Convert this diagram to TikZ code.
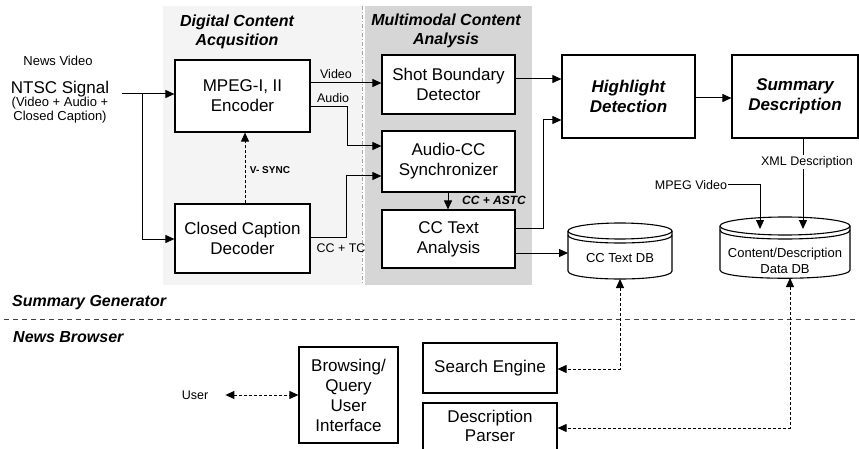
\documentclass[tikz,border=0pt]{standalone}
\usepackage{fontspec}
\setmainfont{Liberation Sans}
\usetikzlibrary{arrows.meta}
\begin{document}
\begin{tikzpicture}[x=1pt,y=-1pt,
  box/.style={draw, line width=1.2pt, fill=white, align=center, inner sep=0pt,
    font=\fontsize{17}{20}\selectfont},
  boxbi/.style={box, font=\fontsize{17}{20}\selectfont\bfseries\itshape},
  lbl/.style={inner sep=1pt, align=center, font=\fontsize{12.5}{14}\selectfont},
  ttl/.style={inner sep=0pt, align=center, font=\fontsize{16}{19}\selectfont\bfseries\itshape},
  arr/.style={-{Triangle[length=9pt,width=8pt]}, line width=1pt},
  darr/.style={{Triangle[length=9pt,width=8pt]}-{Triangle[length=9pt,width=8pt]}, line width=1pt, dash pattern=on 3pt off 2pt},
  dsarr/.style={-{Triangle[length=9pt,width=8pt]}, line width=1pt, dash pattern=on 3pt off 2pt},
  cylline/.style={line width=1.1pt}
]
\useasboundingbox (0,0) rectangle (859,449);
\clip (0,0) rectangle (859,449);
\fill[white] (0,0) rectangle (859,449);

% shaded regions
\fill[gray!9] (163,6) rectangle (362,285);
\fill[gray!32] (365,6) rectangle (532,285);
\draw[gray!70, line width=0.6pt, dash pattern=on 4pt off 2pt on 1pt off 2pt] (362,6) -- (362,285);

% titles
\node[ttl] (t1) at (237,32) {Digital Content\\Acqusition};
\node[ttl] (t2) at (446,31) {Multimodal Content\\Analysis};

% left texts
\node[lbl, font=\fontsize{13}{15}\selectfont] (nv) at (58,61) {News Video};
\node[inner sep=0pt, font=\fontsize{17}{20}\selectfont] (ntsc) at (60,89) {NTSC Signal};
\node[inner sep=0pt, align=center, font=\fontsize{13}{14.5}\selectfont] (ntscsub) at (60,110) {(Video + Audio +\\Closed Caption)};

% boxes
\node[box, minimum width=135, minimum height=72] (enc) at (242.5,96) {MPEG-I, II\\Encoder};
\node[box, minimum width=135, minimum height=69] (ccd) at (242.5,238.5) {Closed Caption\\Decoder};
\node[box, minimum width=133, minimum height=59] (sbd) at (448.5,84.5) {Shot Boundary\\Detector};
\node[box, minimum width=133, minimum height=61] (acc) at (448.5,161.5) {Audio-CC\\Synchronizer};
\node[box, minimum width=133, minimum height=58] (cta) at (448.5,239) {CC Text\\Analysis};
\node[boxbi, minimum width=133, minimum height=83] (hd) at (628.5,96.5) {Highlight\\Detection};
\node[boxbi, minimum width=126, minimum height=83] (sd) at (795,96.5) {Summary\\Description};
\node[box, minimum width=134, minimum height=50] (se) at (490,368) {Search Engine};
\node[box, minimum width=134, minimum height=54, text depth=0pt] (dp) at (490,430) {};
\node[inner sep=0pt, align=center, font=\fontsize{17}{19}\selectfont] (dpt) at (490,426) {Description\\Parser};
\node[box, minimum width=99, minimum height=96] (bqi) at (348.5,395) {Browsing/\\Query\\User\\Interface};

% cylinders
% CC Text DB: L=568 R=672 cy=231 ry=8
\draw[cylline, fill=white] (568,231) -- (568,271) .. controls (568,281.67) and (672,281.67) .. (672,271) -- (672,231);
\draw[cylline, fill=white] (620,231) ellipse [x radius=52, y radius=8];
\draw[cylline] (568,235) .. controls (568,245.67) and (672,245.67) .. (672,235);
\coordinate (ctdbtop) at (620,231);
\coordinate (ctdbbot) at (620,279);
\coordinate (ctdbw) at (568,253);
\node[inner sep=0pt, font=\fontsize{13}{15}\selectfont] (ctdb) at (620,258) {CC Text DB};

% Content/Description DB: L=720 R=850 cy=226 ry=9
\draw[cylline, fill=white] (720,226) -- (720,270) .. controls (720,281) and (850,281) .. (850,270) -- (850,226);
\draw[cylline, fill=white] (785,226) ellipse [x radius=65, y radius=9];
\draw[cylline] (720,230) .. controls (720,242) and (850,242) .. (850,230);
\coordinate (cddbbot) at (790,278);
\node[inner sep=0pt, align=center, font=\fontsize{13}{16}\selectfont] (cddb) at (785,261) {Content/Description\\Data DB};

% labels
\node[lbl] (lvideo) at (336,74) {Video};
\node[lbl] (laudio) at (333,98) {Audio};
\node[inner sep=1pt, font=\fontsize{10}{12}\selectfont\bfseries] (lvs) at (270,170) {V- SYNC};
\node[lbl] (lcctc) at (341,248) {CC + TC};
\node[inner sep=1pt, font=\fontsize{12}{14}\selectfont\bfseries\itshape] (lastc) at (494,200) {CC + ASTC};
\node[lbl] (lmpeg) at (691,185) {MPEG Video};
\node[lbl] (luser) at (195,395) {User};

% separator
\draw[gray!50!black, line width=0.9pt, dash pattern=on 5pt off 4pt] (4,319) -- (857,319);
\node[anchor=west, inner sep=0pt, font=\fontsize{16}{19}\selectfont\bfseries\itshape] (sg) at (12,303) {Summary Generator};
\node[anchor=west, inner sep=0pt, font=\fontsize{16}{19}\selectfont\bfseries\itshape] (nb) at (13,337) {News Browser};

% connectors
\coordinate (nin) at (122,94);
\draw[arr] (nin) -- (enc.west |- nin);
\draw[arr] (142,94) -- (142,239) -- (ccd.west |- 0,239);
\draw[dsarr] (ccd.north -| 245,0) -- (enc.south -| 245,0);
\draw[arr] (enc.east |- 0,83) -- (sbd.west |- 0,83);
\draw[arr] (enc.east |- 0,107) -- (347,107) -- (347,146) -- (acc.west |- 0,146);
\draw[arr] (ccd.east |- 0,237) -- (346,237) -- (346,176) -- (acc.west |- 0,176);
\draw[arr] (acc.south -| 448,0) -- (cta.north -| 448,0);
\draw[arr] (sbd.east |- 0,79) -- (hd.west |- 0,79);
\draw[arr] (cta.east |- 0,228) -- (543,228) -- (543,120) -- (hd.west |- 0,120);
\draw[arr] (cta.east |- 0,253) -- (ctdbw);
\draw[arr] (hd.east |- 0,98) -- (sd.west |- 0,98);
\draw[arr] (sd.south -| 803,0) -- (803,229);
\node[lbl, fill=white] (lxml) at (807,162) {XML Description};
\draw[arr] (lmpeg.east) -- (760,185) -- (760,229);
\draw[darr] (luser.east) ++(16,0) -- (bqi.west);
\draw[darr] (ctdbbot) -- (620,369) -- (se.east |- 0,369);
\draw[darr] (cddbbot) -- (790,428) -- (dp.east |- 0,428);
\end{tikzpicture}
\end{document}
